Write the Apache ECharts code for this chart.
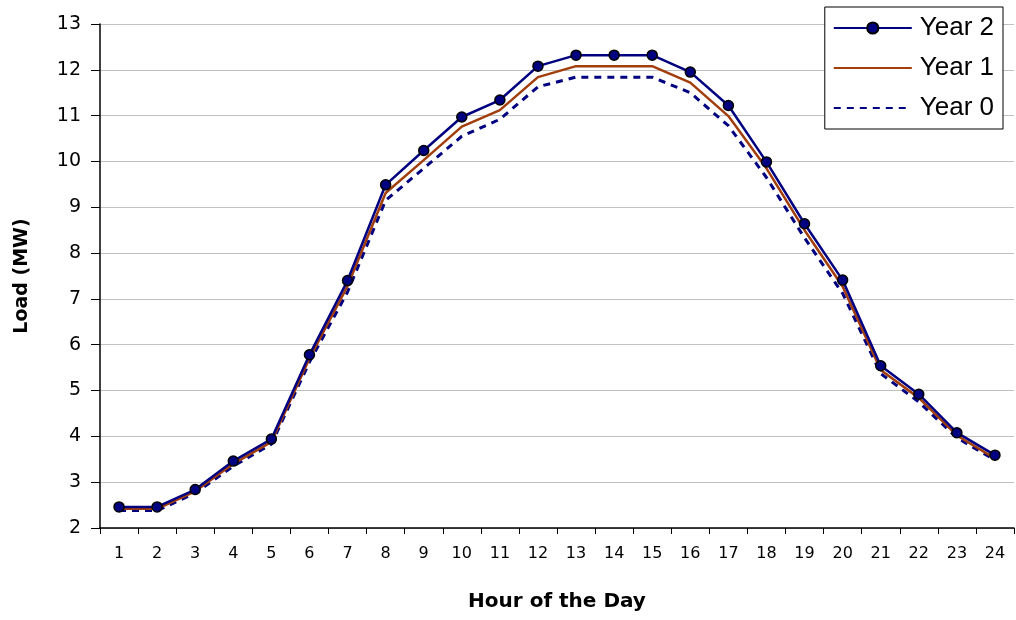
<!DOCTYPE html>
<html><head><meta charset="utf-8">
<script src="https://cdn.jsdelivr.net/npm/echarts@6/dist/echarts.min.js"></script>
<style>html,body{margin:0;padding:0;background:#fff}#c{width:1016px;height:620px}</style>
</head><body><div id="c"></div>
<script>
const hours = ['1','2','3','4','5','6','7','8','9','10','11','12','13','14','15','16','17','18','19','20','21','22','23','24'];
const year2 = [2.46,2.46,2.84,3.46,3.94,5.78,7.40,9.49,10.24,10.97,11.34,12.08,12.32,12.32,12.32,11.95,11.22,9.99,8.64,7.41,5.54,4.92,4.08,3.59];
const year1 = [2.42,2.42,2.80,3.40,3.88,5.70,7.28,9.31,10.03,10.76,11.12,11.84,12.08,12.08,12.08,11.72,10.99,9.85,8.50,7.27,5.45,4.84,4.02,3.52];
const year0 = [2.38,2.38,2.76,3.35,3.83,5.62,7.15,9.15,9.85,10.55,10.92,11.63,11.84,11.84,11.84,11.50,10.78,9.65,8.33,7.12,5.37,4.75,3.97,3.48];

const chart = echarts.init(document.getElementById('c'));
const axFont = 'DejaVu Sans, sans-serif';
const lgFont = 'Liberation Sans, Arial, sans-serif';
const hiddenMark = {color: 'rgba(0,0,0,0)', borderColor: 'rgba(0,0,0,0)', borderWidth: 0};
chart.setOption({
  animation: false,
  backgroundColor: '#fff',
  grid: {left: 100, right: 2, top: 24, bottom: 92},
  legend: {
    orient: 'vertical', right: 13, top: 7,
    backgroundColor: '#fff', borderColor: '#000', borderWidth: 1, borderRadius: 0,
    padding: [8, 9, 8, 8], itemGap: 14, itemWidth: 78, itemHeight: 14,
    textStyle: {fontFamily: lgFont, fontSize: 26, lineHeight: 24, color: '#000', padding: [0, 0, 0, 3]},
    data: [{name: 'Year 2'}, {name: 'Year 1', itemStyle: hiddenMark}, {name: 'Year 0', itemStyle: hiddenMark}]
  },
  xAxis: {
    type: 'category', data: hours, boundaryGap: true,
    name: 'Hour of the Day', nameLocation: 'middle', nameGap: 64,
    nameTextStyle: {fontFamily: axFont, fontSize: 20, fontWeight: 'bold', color: '#000'},
    axisLine: {lineStyle: {color: '#000', width: 1.5}},
    axisTick: {show: true, length: 6, lineStyle: {color: '#000'}},
    axisLabel: {fontFamily: axFont, fontSize: 16, color: '#000', margin: 18},
    splitLine: {show: false}
  },
  yAxis: {
    type: 'value', min: 2, max: 13, interval: 1,
    name: 'Load (MW)', nameLocation: 'middle', nameGap: 68,
    nameTextStyle: {fontFamily: axFont, fontSize: 19, fontWeight: 'bold', color: '#000'},
    axisLine: {show: true, lineStyle: {color: '#000', width: 1.5}},
    axisTick: {show: true, length: 9, lineStyle: {color: '#000'}},
    axisLabel: {fontFamily: axFont, fontSize: 19, color: '#000', margin: 19},
    splitLine: {show: true, lineStyle: {color: '#c0c0c0', width: 1}}
  },
  series: [
    {name: 'Year 0', type: 'line', data: year0, symbol: 'none', z: 2,
     lineStyle: {color: '#000080', width: 3, type: [7, 6]}, itemStyle: {color: '#000080'}},
    {name: 'Year 1', type: 'line', data: year1, symbol: 'none', z: 3,
     lineStyle: {color: '#a23d0c', width: 2.5}, itemStyle: {color: '#a23d0c'}},
    {name: 'Year 2', type: 'line', data: year2, symbol: 'circle', symbolSize: 10, z: 4,
     lineStyle: {color: '#000080', width: 2.5},
     itemStyle: {color: '#000080', borderColor: '#000', borderWidth: 1.5}}
  ]
});
</script></body></html>
